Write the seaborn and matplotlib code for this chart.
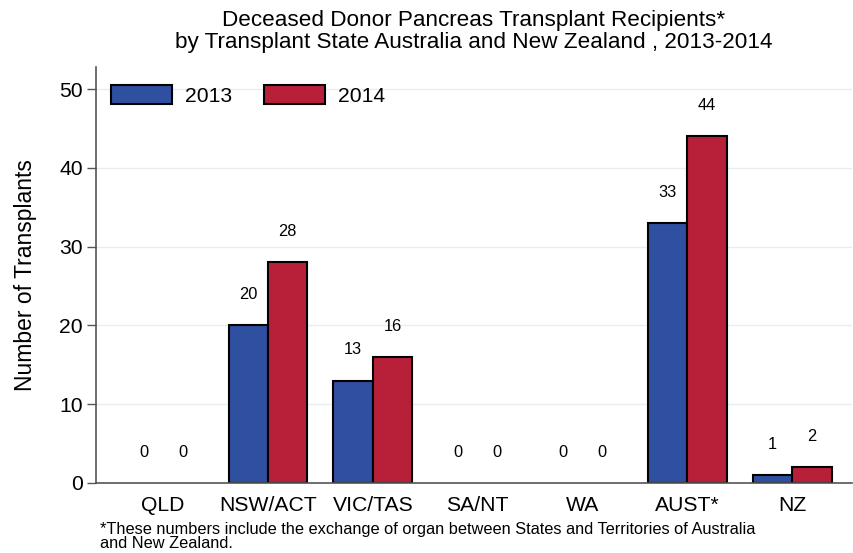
import matplotlib
matplotlib.use("Agg")
import matplotlib.pyplot as plt
import seaborn as sns
import pandas as pd
from matplotlib.patches import Patch

# Transplant recipients by state, two years
states = ["QLD", "NSW/ACT", "VIC/TAS", "SA/NT", "WA", "AUST*", "NZ"]
years = ["2013", "2014"]
recipients_2013 = [0, 20, 13, 0, 0, 33, 1]
recipients_2014 = [0, 28, 16, 0, 0, 44, 2]
y_ticks = [0, 10, 20, 30, 40, 50]

title_text = ("Deceased Donor Pancreas Transplant Recipients*\n"
              "by Transplant State Australia and New Zealand , 2013-2014")
footnote = ("*These numbers include the exchange of organ between States and Territories of Australia\n"
            "and New Zealand.")

BLUE = "#2f4fa0"
RED = "#b81f38"

df = pd.DataFrame({
    "state": states * 2,
    "year": [years[0]] * len(states) + [years[1]] * len(states),
    "count": recipients_2013 + recipients_2014,
})

sns.set_style("white")
plt.rcParams["font.family"] = ["Liberation Sans", "DejaVu Sans"]
for key in ["text.color", "axes.labelcolor", "xtick.color", "ytick.color"]:
    plt.rcParams[key] = "black"

fig = plt.figure(figsize=(8.54, 5.53), dpi=100)
ax = fig.add_axes([96 / 854, 1 - 483 / 553, (852 - 96) / 854, (483 - 67) / 553])

sns.barplot(data=df, x="state", y="count", hue="year", order=states,
            hue_order=years, palette=[BLUE, RED], saturation=1, width=0.75,
            edgecolor="black", linewidth=1.5, legend=False, ax=ax)

# value labels above each bar
for container, values in zip(ax.containers, [recipients_2013, recipients_2014]):
    for patch, v in zip(container.patches, values):
        if v == 0:
            patch.set_linewidth(0)
        ax.text(patch.get_x() + patch.get_width() / 2, v + 3.9, f"{v}",
                ha="center", va="center", fontsize=11.8, color="black")

ax.set_xlim(-0.64, 6.57)
ax.set_ylim(0, 52.8)
ax.set_yticks(y_ticks)
ax.yaxis.grid(True, color="#e6eeef", linewidth=1)
ax.set_axisbelow(True)

for side in ["top", "right"]:
    ax.spines[side].set_visible(False)
for side in ["left", "bottom"]:
    ax.spines[side].set_color("#555555")
    ax.spines[side].set_linewidth(1.2)

ax.tick_params(axis="y", which="both", left=True, length=6.5, width=1,
               color="#555555", labelcolor="black", labelsize=15.2, pad=3)
ax.tick_params(axis="x", bottom=False, labelcolor="black", labelsize=15.2, pad=6)
ax.set_xlabel("")
ax.set_ylabel("Number of Transplants", fontsize=16.5)
ax.yaxis.set_label_coords((37 - 96) / 756, 0.5)

handles = [Patch(facecolor=BLUE, edgecolor="black", linewidth=1.5),
           Patch(facecolor=RED, edgecolor="black", linewidth=1.5)]
ax.legend(handles, years, loc="upper left",
          bbox_to_anchor=((111 - 96) / 756, (483 - 85) / 416),
          borderaxespad=0, borderpad=0,
          ncol=2, frameon=False, fontsize=15.2, handlelength=2.9,
          handleheight=1.0, handletextpad=0.6, columnspacing=1.5)

fig.text(474 / 854, 1 - 31.5 / 553, title_text, ha="center", va="center",
         fontsize=16.2, linespacing=1.05)
fig.text(100 / 854, 1 - 536.5 / 553, footnote, ha="left", va="center",
         fontsize=11.8, linespacing=0.93)

fig.savefig("out.png", dpi=100, facecolor="white")
